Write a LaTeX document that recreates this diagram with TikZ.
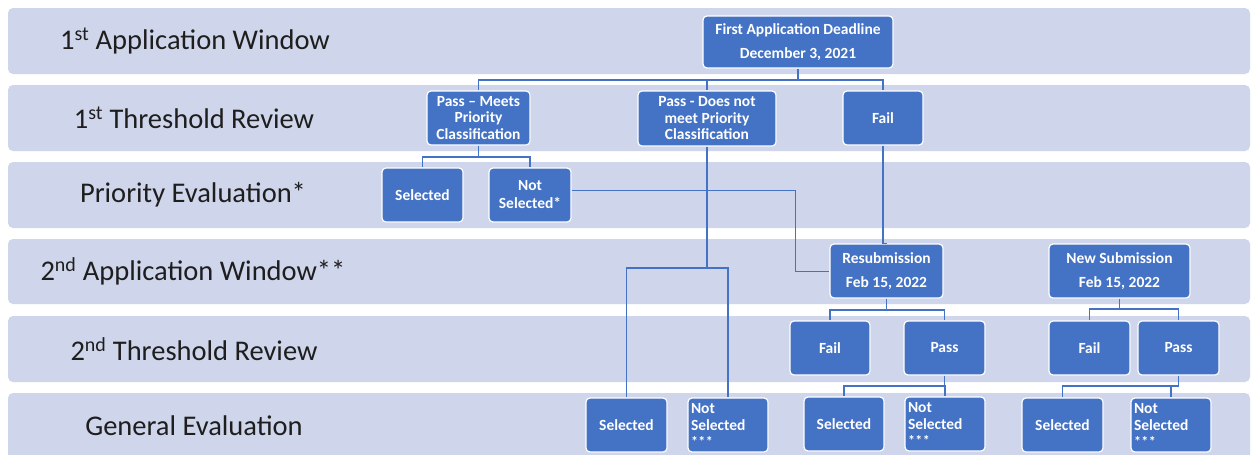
\documentclass[tikz,border=0pt]{standalone}
\usepackage{fontspec}
\setmainfont{Carlito}
\definecolor{bandc}{HTML}{CFD5EA}
\definecolor{boxc}{HTML}{4472C4}
\definecolor{labc}{HTML}{1E1E1E}
\newcommand{\stars}{{\fontsize{14}{14}\selectfont{*}\kern0.5pt{*}\kern0.5pt{*}}}
\tikzset{
  band/.style={fill=bandc, draw=none, rounded corners=5pt},
  lanelabel/.style={text=labc, font=\fontsize{28.5}{32}\selectfont, anchor=center},
  box/.style={fill=boxc, draw=white, line width=1.2pt, rounded corners=4pt, text=white,
    font=\bfseries\fontsize{15.5}{18}\selectfont, align=center, inner sep=1pt, minimum height=54pt},
  nsbox/.style={box, align=left, font=\bfseries\fontsize{15.5}{16.5}\selectfont},
  conn/.style={draw=boxc, line width=1.6pt},
  thinconn/.style={draw=boxc, line width=1pt}
}
\begin{document}
\begin{tikzpicture}[x=1pt,y=-1pt]
\useasboundingbox (0,0) rectangle (1251,455);
\clip (0,0) rectangle (1251,455);
\fill[white] (0,0) rectangle (1251,455);
% lanes
\path[band] (8,8) rectangle (1250,74);
\path[band] (8,85) rectangle (1250,151);
\path[band] (8,162) rectangle (1250,228);
\path[band] (8,239) rectangle (1250,304);
\path[band] (8,316) rectangle (1250,382);
\path[band] (8,393) rectangle (1250,470);
\node[lanelabel] (l1) at (195,41) {1\textsuperscript{st} Application Window};
\node[lanelabel] (l2) at (194,118) {1\textsuperscript{st} Threshold Review};
\node[lanelabel] (l3) at (193,195) {Priority Evaluation*};
\node[lanelabel] (l4) at (193,271) {2\textsuperscript{nd} Application Window**};
\node[lanelabel] (l5) at (194,349) {2\textsuperscript{nd} Threshold Review};
\node[lanelabel] (l6) at (194,426) {General Evaluation};
% boxes
\node[box, minimum width=190pt, minimum height=52pt] (fad) at (798,42) {First Application Deadline\\[6pt]December 3, 2021};
\node[box, minimum width=103pt, font=\bfseries\fontsize{15.5}{16.5}\selectfont] (pm) at (478.5,118) {Pass -- Meets\\Priority\\Classification};
\node[box, minimum width=138pt, minimum height=55pt, font=\bfseries\fontsize{15.5}{16.5}\selectfont] (pd) at (707,118.5) {Pass - Does not\\meet Priority\\Classification};
\node[box, minimum width=80pt] (f1) at (883,118) {Fail};
\node[box, minimum width=81pt] (s1) at (422.5,195) {Selected};
\node[box, minimum width=82pt] (ns1) at (530,195) {Not\\Selected*};
\node[box, minimum width=113pt] (rs) at (886.5,271) {Resubmission\\[6pt]Feb 15, 2022};
\node[box, minimum width=141pt] (nw) at (1119.5,271) {New Submission\\[6pt]Feb 15, 2022};
\node[box, minimum width=80pt] (f2) at (830,348) {Fail};
\node[box, minimum width=81pt] (p2) at (944.5,348) {Pass};
\node[box, minimum width=81pt] (f3) at (1089.5,348) {Fail};
\node[box, minimum width=81pt] (p3) at (1178.5,348) {Pass};
\node[box, minimum width=81pt] (g1s) at (626.5,425) {Selected};
\node[nsbox, minimum width=80pt, text width=74pt] (g1n) at (728,425) {Not\\Selected\\\stars};
\node[box, minimum width=80pt] (g2s) at (844,424) {Selected};
\node[nsbox, minimum width=80pt, text width=74pt] (g2n) at (945,424) {Not\\Selected\\\stars};
\node[box, minimum width=81pt] (g3s) at (1062.5,425) {Selected};
\node[nsbox, minimum width=80pt, text width=74pt] (g3n) at (1171,425) {Not\\Selected\\\stars};
% branch points
\coordinate (b1) at (798,80);
\coordinate (b2) at (478.5,157);
\coordinate (b3) at (707,268);
\coordinate (b4) at (886.5,310);
\coordinate (b5) at (1119.5,309);
\coordinate (b6) at (944.5,386);
\coordinate (b7) at (1178.5,386);
\coordinate (j1) at (795,190);
% connectors
\draw[conn] (fad.south) -- (b1) -| (pm.north);
\draw[conn] (b1) -| (pd.north);
\draw[conn] (b1) -| (f1.north);
\draw[conn] (pm.south) -- (b2) -| (s1.north);
\draw[conn] (b2) -| (ns1.north);
\draw[conn] (pd.south) -- (b3) -| (g1s.north);
\draw[conn] (b3) -| (g1n.north);
\draw[conn] (f1.south) -- (rs.north -| f1.south) -- (rs.north);
\draw[thinconn] (ns1.east |- j1) -- (j1) |- (rs.west);
\draw[conn] (rs.south) -- (b4) -| (f2.north);
\draw[conn] (b4) -| (p2.north);
\draw[conn] (nw.south) -- (b5) -| (f3.north);
\draw[conn] (b5) -| (p3.north);
\draw[conn] (p2.south) -- (b6) -| (g2s.north);
\draw[conn] (b6) -| (g2n.north);
\draw[conn] (p3.south) -- (b7) -| (g3s.north);
\draw[conn] (b7) -| (g3n.north);
\end{tikzpicture}
\end{document}
